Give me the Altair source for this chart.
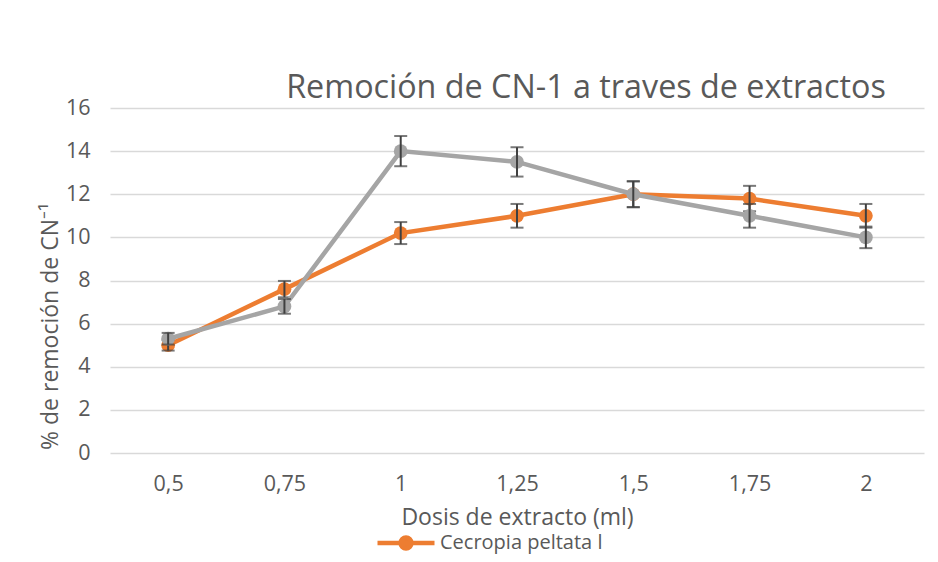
import altair as alt
import pandas as pd

doses = ["0,5", "0,75", "1", "1,25", "1,5", "1,75", "2"]
orange_name = "Cecropia peltata l"
gray_name = "Serie2"
orange_vals = [5.0, 7.6, 10.2, 11.0, 12.0, 11.8, 11.0]
orange_err = [0.25, 0.38, 0.51, 0.55, 0.60, 0.59, 0.55]
gray_vals = [5.3, 6.8, 14.0, 13.5, 12.0, 11.0, 10.0]
gray_err = [0.27, 0.34, 0.70, 0.68, 0.60, 0.55, 0.50]

ORANGE = "#ED7D31"
GRAY = "#A5A5A5"
ERR = "#404040"
TXT = "#595959"
FONT = "Open Sans"

rows = []
for name, vals, errs in [(orange_name, orange_vals, orange_err), (gray_name, gray_vals, gray_err)]:
    for d, v, e in zip(doses, vals, errs):
        rows.append({"serie": name, "dosis": d, "valor": v, "err": e})
df = pd.DataFrame(rows)

xenc = alt.X("dosis:N", sort=doses,
             scale=alt.Scale(type="point", padding=0.5),
             axis=alt.Axis(title="Dosis de extracto (ml)", labelAngle=0, ticks=False,
                           domain=False, grid=False, labelPadding=20, titlePadding=12))
yscale = alt.Scale(domain=[0, 16], nice=False)
yaxis = alt.Axis(title="% de remoción de CN⁻¹", values=list(range(0, 17, 2)), ticks=False,
                 domain=False, grid=True, labelPadding=20, titleX=-48, titleY=218)


def series_layers(name, color):
    base = alt.Chart(df).transform_filter(alt.datum.serie == name).transform_calculate(
        lo="datum.valor - datum.err", hi="datum.valor + datum.err")
    line = base.mark_line(strokeWidth=4.5, color=color).encode(
        x=xenc, y=alt.Y("valor:Q", scale=yscale, axis=yaxis))
    pts = base.mark_circle(size=190, opacity=1).encode(
        x=xenc, y=alt.Y("valor:Q"),
        fill=alt.Fill("serie:N",
                      scale=alt.Scale(domain=[orange_name, gray_name], range=[ORANGE, GRAY]),
                      legend=alt.Legend(values=[orange_name], title=None, orient="none",
                                        legendX=265, legendY=404,
                                        symbolType="M-1,0H1M-0.19,0A0.19,0.19 0 1,1 0.19,0A0.19,0.19 0 1,1 -0.19,0Z",
                                        symbolSize=3249, symbolStrokeColor=ORANGE,
                                        symbolStrokeWidth=4.5, symbolOpacity=1,
                                        labelFont=FONT, labelFontSize=20, labelColor=TXT,
                                        labelOffset=3, labelLimit=0)))
    rule = base.mark_rule(color=ERR, strokeWidth=2).encode(
        x=xenc, y="lo:Q", y2="hi:Q")
    cap_lo = base.mark_tick(color=ERR, size=13, thickness=2).encode(x=xenc, y="lo:Q")
    cap_hi = base.mark_tick(color=ERR, size=13, thickness=2).encode(x=xenc, y="hi:Q")
    return [line, pts, rule, cap_lo, cap_hi]


layers = series_layers(orange_name, ORANGE) + series_layers(gray_name, GRAY)

chart = alt.layer(*layers).properties(
    width=814, height=345,
    background="white",
    autosize=alt.AutoSizeParams(type="none"),
    padding={"left": 102, "top": 100, "right": 6, "bottom": 101},
    title=alt.TitleParams("Remoción de CN-1 a traves de extractos", font=FONT, fontSize=32.3,
                          fontWeight="normal", color=TXT, anchor="middle", dx=69, offset=-7),
).configure_axis(
    labelFont=FONT, labelFontSize=21.5, labelColor=TXT,
    titleFont=FONT, titleFontSize=23, titleColor=TXT, titleFontWeight="normal",
    gridColor="#d9d9d9", gridWidth=1.5,
).configure_view(stroke=None)

chart.save("out.html", embed_options={"renderer": "svg", "actions": False})
